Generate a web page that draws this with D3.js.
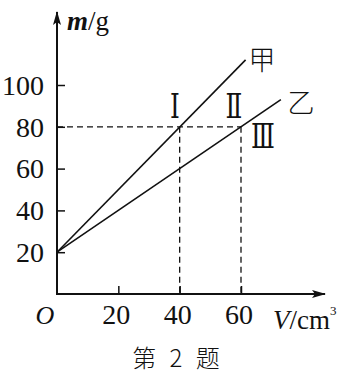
<!DOCTYPE html>
<html>
<head>
<meta charset="utf-8">
<script src="https://cdn.jsdelivr.net/npm/d3@7"></script>
<style>
  body { margin: 0; background: #fff; }
  svg { display: block; }
  text { fill: #111; }
</style>
</head>
<body>
<div class="canvas"></div>
<script>
// data
const xTicks = [20, 40, 60];
const yTicks = [20, 40, 60, 80, 100];
const jiaV = [0, 61.5];   // 甲
const jiaM = [20, 112];
const yiV = [0, 73];      // 乙
const yiM = [20, 93];
const markV = [40, 60];   // dashed guides
const markM = [80, 80];

const W = 347, H = 373;

const svg = d3.select(".canvas")
  .append("svg")
  .attr("width", W)
  .attr("height", H);

const x = d3.scaleLinear().domain([0, 60]).range([57, 241]);
const y = d3.scaleLinear().domain([0, 100]).range([294, 85]);

// arrow heads
const defs = svg.append("defs");
defs.append("marker")
  .attr("id", "arrow")
  .attr("viewBox", "0 0 14 8")
  .attr("refX", 13).attr("refY", 4)
  .attr("markerWidth", 14).attr("markerHeight", 8)
  .attr("markerUnits", "userSpaceOnUse")
  .attr("orient", "auto")
  .append("path")
  .attr("d", "M0,0 L14,4 L0,8 L3,4 Z")
  .attr("fill", "#111");

// axes lines
svg.append("line")
  .attr("x1", x(0)).attr("y1", y(0))
  .attr("x2", 325).attr("y2", y(0))
  .attr("stroke", "#111").attr("stroke-width", 2)
  .attr("marker-end", "url(#arrow)");

svg.append("line")
  .attr("x1", x(0)).attr("y1", y(0) + 1)
  .attr("x2", x(0)).attr("y2", 12)
  .attr("stroke", "#111").attr("stroke-width", 2)
  .attr("marker-end", "url(#arrow)");

// ticks (inner side)
const xAxis = d3.axisTop(x).tickValues(xTicks).tickSize(8).tickFormat("");
svg.append("g")
  .attr("transform", `translate(0,${y(0)})`)
  .call(xAxis)
  .call(g => g.select(".domain").remove())
  .selectAll("line").attr("stroke", "#111").attr("stroke-width", 1.5);

const yAxis = d3.axisRight(y).tickValues(yTicks).tickSize(8).tickFormat("");
svg.append("g")
  .attr("transform", `translate(${x(0)},0)`)
  .call(yAxis)
  .call(g => g.select(".domain").remove())
  .selectAll("line").attr("stroke", "#111").attr("stroke-width", 1.5);

// tick labels
const numFont = "'Liberation Serif', 'Times New Roman', serif";
svg.append("g").selectAll("text")
  .data(yTicks)
  .join("text")
  .attr("x", x(0) - 13)
  .attr("y", d => y(d))
  .attr("dy", "0.35em")
  .attr("text-anchor", "end")
  .attr("font-family", numFont)
  .attr("font-size", 28)
  .text(d => d);

svg.append("g").selectAll("text")
  .data(xTicks)
  .join("text")
  .attr("x", d => x(d) - 2)
  .attr("y", 324)
  .attr("text-anchor", "middle")
  .attr("font-family", numFont)
  .attr("font-size", 28)
  .text(d => d);

svg.append("text")
  .attr("x", 45).attr("y", 324)
  .attr("text-anchor", "middle")
  .attr("font-family", numFont)
  .attr("font-style", "italic")
  .attr("font-size", 26)
  .text("O");

// dashed guides
const guides = svg.append("g")
  .attr("stroke", "#111").attr("stroke-width", 1.3)
  .attr("stroke-dasharray", "6,4").attr("fill", "none");

guides.append("line")
  .attr("x1", x(0)).attr("y1", y(markM[1]))
  .attr("x2", x(markV[1])).attr("y2", y(markM[1]));

markV.forEach(v => {
  guides.append("line")
    .attr("x1", x(v)).attr("y1", y(80))
    .attr("x2", x(v)).attr("y2", y(0));
});

// data lines
const line = d3.line().x(d => x(d[0])).y(d => y(d[1]));

svg.append("path")
  .attr("d", line(d3.zip(jiaV, jiaM)))
  .attr("stroke", "#111").attr("stroke-width", 1.6).attr("fill", "none");

svg.append("path")
  .attr("d", line(d3.zip(yiV, yiM)))
  .attr("stroke", "#111").attr("stroke-width", 1.6).attr("fill", "none");

// labels
const cjk = "'Noto Sans CJK SC', sans-serif";
svg.append("text")
  .attr("x", 262).attr("y", 70)
  .attr("text-anchor", "middle")
  .attr("font-family", cjk).attr("font-weight", 300)
  .attr("font-size", 27)
  .text("甲");

svg.append("text")
  .attr("x", 301).attr("y", 113)
  .attr("text-anchor", "middle")
  .attr("font-family", cjk).attr("font-weight", 300)
  .attr("font-size", 27)
  .text("乙");

const roman = "'DejaVu Serif', serif";
[["Ⅰ", 175, 118], ["Ⅱ", 234, 118], ["Ⅲ", 263, 148]].forEach(([t, px, py]) => {
  svg.append("text")
    .attr("x", px).attr("y", py)
    .attr("text-anchor", "middle")
    .attr("font-family", roman)
    .attr("font-size", 33)
    .attr("transform", `translate(${px},${py}) scale(0.75,1) translate(${-px},${-py})`)
    .text(t);
});

// axis titles
const mg = svg.append("text")
  .attr("x", 67).attr("y", 30)
  .attr("font-family", numFont)
  .attr("font-size", 27);
mg.append("tspan").attr("font-style", "italic").attr("font-weight", "bold").text("m");
mg.append("tspan").text("/g");

const vc = svg.append("text")
  .attr("x", 273).attr("y", 329)
  .attr("font-family", numFont)
  .attr("font-size", 27);
vc.append("tspan").attr("font-style", "italic").text("V");
vc.append("tspan").text("/cm");
vc.append("tspan").attr("font-size", 13).attr("dy", -14).text("3");

svg.append("text")
  .attr("x", 176).attr("y", 367)
  .attr("text-anchor", "middle")
  .attr("font-family", cjk).attr("font-weight", 300)
  .attr("font-size", 24)
  .attr("word-spacing", 8)
  .text("第 2 题");
</script>
</body>
</html>
